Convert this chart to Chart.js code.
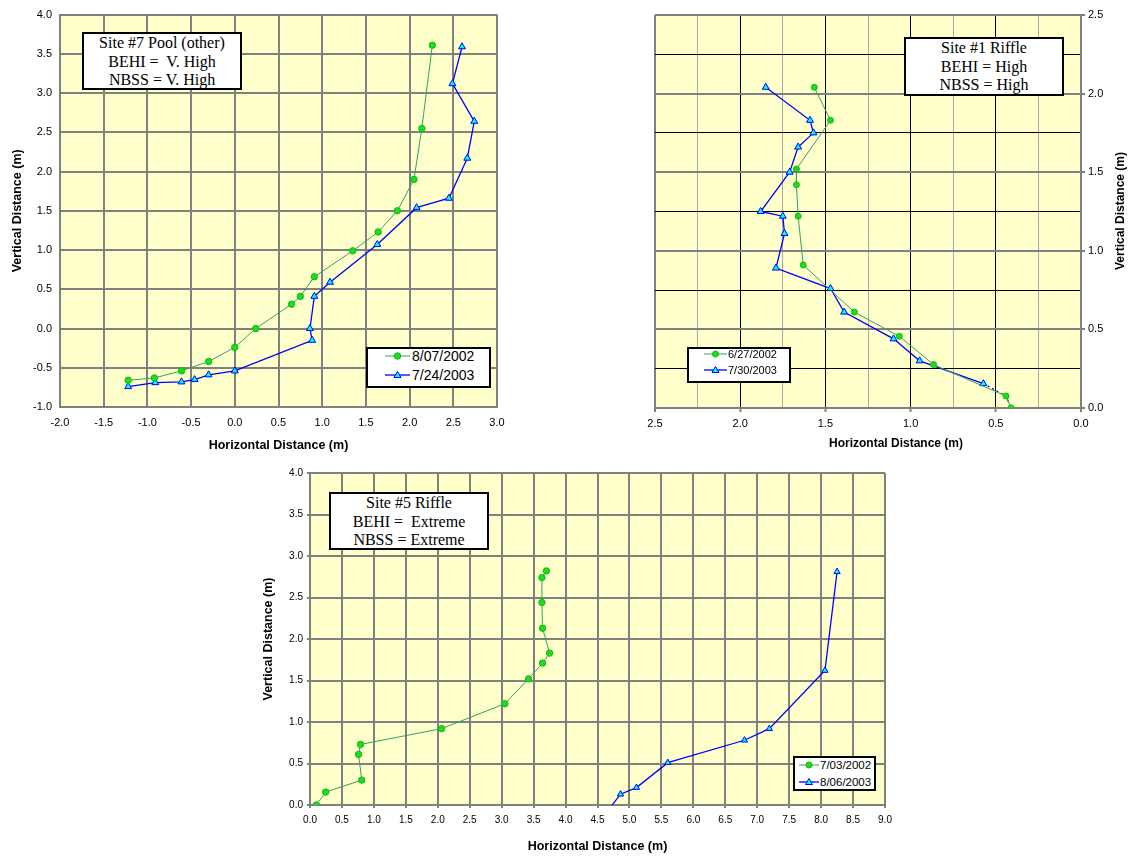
<!DOCTYPE html>
<html>
<head>
<meta charset="utf-8">
<title>Bank profiles</title>
<script src="https://cdn.jsdelivr.net/npm/chart.js@4.4.1/dist/chart.umd.min.js"></script>
<style>
body { margin:0; background:#fff; width:1129px; height:858px; position:relative; overflow:hidden; font-family:"Liberation Sans", Arial, sans-serif; color:#000; }
canvas { position:absolute; }
.note { position:absolute; box-sizing:border-box; background:#fff; border:2px solid #000; font-family:"Liberation Serif", "Times New Roman", serif; font-size:16px; line-height:18.5px; text-align:center; white-space:pre; }
.legend { position:absolute; box-sizing:border-box; background:#fff; border:2px solid #000; }
.legend .row { position:absolute; left:0; white-space:nowrap; }
.legend svg, .legend span { position:absolute; top:0; }
.atitle { position:absolute; font-weight:bold; font-size:12px; white-space:nowrap; text-align:center; }
</style>
</head>
<body>

<canvas id="site7" width="520" height="460" style="left:0;top:0;width:520px;height:460px"></canvas>
<canvas id="site1" width="509" height="460" style="left:620px;top:0;width:509px;height:460px"></canvas>
<canvas id="site5" width="650" height="398" style="left:250px;top:460px;width:650px;height:398px"></canvas>

<div class="note" style="left:82px;top:32px;width:160px;height:58px">Site #7 Pool (other)
BEHI =  V. High
NBSS = V. High</div>
<div class="note" style="left:904px;top:37px;width:160px;height:59px">Site #1 Riffle
BEHI = High
NBSS = High</div>
<div class="note" style="left:329px;top:492px;width:160px;height:58px">Site #5 Riffle
BEHI =  Extreme
NBSS = Extreme</div>

<div class="legend" style="left:366px;top:347px;width:125px;height:41px;font-size:14px">
  <div class="row" style="top:-2px;height:18px;line-height:18px">
    <svg style="left:17px;top:4px" width="25" height="10"><line x1="0" y1="5" x2="25" y2="5" stroke="#3A9E68" stroke-width="1"/><circle cx="12.5" cy="5" r="3.2" fill="#1EDC1E" stroke="#12B812"/></svg>
    <span style="left:44px">8/07/2002</span>
  </div>
  <div class="row" style="top:16.7px;height:18px;line-height:18px">
    <svg style="left:17px;top:4px" width="25" height="10"><line x1="0" y1="5" x2="25" y2="5" stroke="#0000FF" stroke-width="1.3"/><polygon points="12.5,1.5 16,7.5 9,7.5" fill="#00FFFF" stroke="#0000FF"/></svg>
    <span style="left:44px">7/24/2003</span>
  </div>
</div>

<div class="legend" style="left:687px;top:347px;width:104px;height:36px;font-size:11px">
  <div class="row" style="top:-2px;height:14px;line-height:14px">
    <svg style="left:15px;top:2px" width="23" height="10"><line x1="0" y1="5" x2="23" y2="5" stroke="#3A9E68" stroke-width="1"/><circle cx="11.5" cy="5" r="3" fill="#1EDC1E" stroke="#12B812"/></svg>
    <span style="left:39px">6/27/2002</span>
  </div>
  <div class="row" style="top:13.7px;height:14px;line-height:14px">
    <svg style="left:15px;top:2px" width="23" height="10"><line x1="0" y1="5" x2="23" y2="5" stroke="#0000FF" stroke-width="1.3"/><polygon points="11.5,1.5 15,7.5 8,7.5" fill="#00FFFF" stroke="#0000FF"/></svg>
    <span style="left:39px">7/30/2003</span>
  </div>
</div>

<div class="legend" style="left:793px;top:756px;width:83px;height:35px;font-size:11.5px">
  <div class="row" style="top:-1.3px;height:16px;line-height:16px">
    <svg style="left:4px;top:3px" width="20" height="10"><line x1="0" y1="5" x2="20" y2="5" stroke="#3A9E68" stroke-width="1"/><circle cx="10" cy="5" r="3" fill="#1EDC1E" stroke="#12B812"/></svg>
    <span style="left:25px">7/03/2002</span>
  </div>
  <div class="row" style="top:16px;height:16px;line-height:16px">
    <svg style="left:4px;top:3px" width="20" height="10"><line x1="0" y1="5" x2="20" y2="5" stroke="#0000FF" stroke-width="1.3"/><polygon points="10,1.5 13.5,7.5 6.5,7.5" fill="#00FFFF" stroke="#0000FF"/></svg>
    <span style="left:25px">8/06/2003</span>
  </div>
</div>

<div class="atitle" style="left:796px;top:435px;width:200px;line-height:16px">Horizontal Distance (m)</div>
<div class="atitle" style="left:1020px;top:203px;width:200px;line-height:16px;transform:rotate(-90deg)">Vertical Distance (m)</div>

<script>
// Site #7 Pool (other)
let site7Labels = ['8/07/2002', '7/24/2003']
let site7X2002 = [-1.22, -0.92, -0.61, -0.30, 0.00, 0.24, 0.65, 0.75, 0.91, 1.35, 1.64, 1.86, 2.05, 2.14, 2.26]
let site7Y2002 = [-0.66, -0.63, -0.54, -0.42, -0.24, 0.00, 0.31, 0.41, 0.66, 0.99, 1.23, 1.50, 1.90, 2.55, 3.61]
let site7X2003 = [-1.22, -0.91, -0.61, -0.46, -0.30, 0.00, 0.885, 0.86, 0.91, 1.09, 1.63, 2.08, 2.45, 2.66, 2.74, 2.49, 2.60]
let site7Y2003 = [-0.74, -0.69, -0.68, -0.65, -0.59, -0.54, -0.15, 0.00, 0.41, 0.59, 1.07, 1.54, 1.66, 2.17, 2.64, 3.12, 3.59]

// Site #1 Riffle
let site1Labels = ['6/27/2002', '7/30/2003']
let site1X2002 = [1.565, 1.47, 1.67, 1.67, 1.66, 1.63, 1.33, 1.066, 0.865, 0.44, 0.41]
let site1Y2002 = [2.04, 1.83, 1.52, 1.42, 1.22, 0.91, 0.61, 0.456, 0.276, 0.076, 0.00]
let site1X2003 = [1.85, 1.59, 1.57, 1.66, 1.71, 1.88, 1.75, 1.74, 1.79, 1.47, 1.39, 1.10, 0.947, 0.573, 0.44, 0.41]
let site1Y2003 = [2.04, 1.83, 1.75, 1.66, 1.50, 1.25, 1.22, 1.11, 0.89, 0.76, 0.61, 0.44, 0.30, 0.155, 0.076, 0.00]

// Site #5 Riffle
let site5Labels = ['7/03/2002', '8/06/2003']
let site5X2002 = [0.10, 0.245, 0.81, 0.76, 0.79, 2.06, 3.05, 3.42, 3.64, 3.75, 3.64, 3.63, 3.63, 3.70]
let site5Y2002 = [0.00, 0.156, 0.30, 0.61, 0.73, 0.92, 1.22, 1.52, 1.71, 1.83, 2.13, 2.44, 2.74, 2.82]
let site5X2003 = [4.68, 4.86, 5.11, 5.60, 6.80, 7.19, 8.06, 8.25]
let site5Y2003 = [-0.05, 0.13, 0.21, 0.51, 0.78, 0.92, 1.62, 2.81]

const GRID = '#808080'
const GREEN_LINE = '#3A9E68'
const GREEN_DOT = '#1EDC1E'

Chart.defaults.font.family = "'Liberation Sans', Arial, sans-serif"
Chart.defaults.color = '#000'

function pts(xs, ys) { return xs.map((x, i) => ({ x: x, y: ys[i] })) }
function isMajor(v) { return Math.abs(v * 2 - Math.round(v * 2)) < 1e-6 }
function fmt(v) { return v.toFixed(1) }

const plotBg = {
  id: 'plotBg',
  beforeDraw(chart) {
    const { ctx, chartArea: a } = chart
    ctx.save()
    ctx.fillStyle = '#FFFFCC'
    ctx.fillRect(a.left, a.top, a.width, a.height)
    ctx.restore()
  }
}

function greenSet(label, data, r) {
  return {
    label: label, data: data, showLine: true,
    borderColor: GREEN_LINE, borderWidth: 1,
    pointStyle: 'circle', pointRadius: r, pointHoverRadius: r,
    pointBackgroundColor: GREEN_DOT, pointBorderColor: '#12B812', pointBorderWidth: 1
  }
}
function blueSet(label, data, r) {
  return {
    label: label, data: data, showLine: true,
    borderColor: '#0000FF', borderWidth: 1.3,
    pointStyle: 'triangle', pointRadius: r, pointHoverRadius: r,
    pointBackgroundColor: '#00FFFF', pointBorderColor: '#0000FF', pointBorderWidth: 1
  }
}
const baseOpts = {
  responsive: false, animation: false, devicePixelRatio: 1,
  plugins: { legend: { display: false }, tooltip: { enabled: false } }
}

// chart 1
new Chart(document.getElementById('site7'), {
  type: 'scatter',
  data: { datasets: [
    greenSet(site7Labels[0], pts(site7X2002, site7Y2002), 3.2),
    blueSet(site7Labels[1], pts(site7X2003, site7Y2003), 4)
  ] },
  options: Object.assign({}, baseOpts, {
    layout: { padding: { top: 13, right: 23, left: 0, bottom: 0 } },
    scales: {
      x: {
        type: 'linear', min: -2, max: 3,
        ticks: { stepSize: 0.5, padding: 9, font: { size: 11 }, callback: fmt, autoSkip: false, maxRotation: 0 },
        grid: { color: GRID, lineWidth: 2, drawTicks: false },
        border: { color: GRID, width: 2 },
        title: { display: true, text: 'Horizontal Distance (m)', font: { size: 12.5, weight: 'bold' }, padding: { top: 0, bottom: 7 } },
        afterFit: a => { a.height = 53 }
      },
      y: {
        type: 'linear', min: -1, max: 4,
        ticks: { stepSize: 0.5, padding: 8, font: { size: 11 }, callback: fmt, autoSkip: false },
        grid: { color: GRID, lineWidth: 2, drawTicks: false },
        border: { color: GRID, width: 2 },
        title: { display: true, text: 'Vertical Distance (m)', font: { size: 12.5, weight: 'bold' }, padding: { top: 10.5, bottom: 0 } },
        afterFit: a => { a.width = 60 }
      }
    }
  }),
  plugins: [plotBg]
})

// chart 2
let site1Blue = blueSet(site1Labels[1], pts(site1X2003, site1Y2003), 4)
site1Blue.pointRadius = site1X2003.map((v, i) => i >= 14 ? 0 : 4)
site1Blue.segment = { borderDash: c => c.p0DataIndex >= 13 ? [2, 3] : undefined }

new Chart(document.getElementById('site1'), {
  type: 'scatter',
  data: { datasets: [
    greenSet(site1Labels[0], pts(site1X2002, site1Y2002), 3),
    site1Blue
  ] },
  options: Object.assign({}, baseOpts, {
    layout: { padding: { top: 15, right: 0, left: 35, bottom: 0 } },
    scales: {
      x: {
        type: 'linear', reverse: true, min: 0, max: 2.5,
        ticks: { stepSize: 0.25, padding: 5, font: { size: 11 }, callback: v => isMajor(v) ? fmt(v) : '', autoSkip: false, maxRotation: 0 },
        grid: {
          color: c => {
            let v = c.tick.value
            if (v <= 0.001 || v >= 2.499) return GRID
            return isMajor(v) ? '#000' : '#A8A8A8'
          },
          lineWidth: c => (c.tick.value <= 0.001 || c.tick.value >= 2.499) ? 2 : 1,
          tickLength: 4, tickWidth: 2,
          tickColor: c => isMajor(c.tick.value) ? GRID : 'rgba(0,0,0,0)'
        },
        border: { color: GRID, width: 2 },
        afterFit: a => { a.height = 52 }
      },
      y: {
        type: 'linear', position: 'right', min: 0, max: 2.5,
        ticks: { stepSize: 0.25, padding: 3, font: { size: 11 }, callback: v => isMajor(v) ? fmt(v) : '', autoSkip: false },
        grid: {
          color: c => isMajor(c.tick.value) ? GRID : '#000',
          lineWidth: c => isMajor(c.tick.value) ? 2 : 1,
          tickLength: 4, tickWidth: 2,
          tickColor: c => isMajor(c.tick.value) ? GRID : 'rgba(0,0,0,0)'
        },
        border: { color: GRID, width: 2 },
        afterFit: a => { a.width = 48 }
      }
    }
  }),
  plugins: [plotBg]
})

// chart 3
let site5Blue = blueSet(site5Labels[1], pts(site5X2003, site5Y2003), 3.6)
site5Blue.pointRadius = site5X2003.map((v, i) => i === 0 ? 0 : 3.6)
site5Blue.clip = { left: 10, top: 10, right: 10, bottom: 0 }

new Chart(document.getElementById('site5'), {
  type: 'scatter',
  data: { datasets: [
    greenSet(site5Labels[0], pts(site5X2002, site5Y2002), 3.2),
    site5Blue
  ] },
  options: Object.assign({}, baseOpts, {
    layout: { padding: { top: 13, right: 15, left: 0, bottom: 0 } },
    scales: {
      x: {
        type: 'linear', min: 0, max: 9,
        ticks: { stepSize: 0.5, padding: 6, font: { size: 10 }, callback: fmt, autoSkip: false, maxRotation: 0 },
        grid: { color: GRID, lineWidth: 2, tickLength: 3, tickColor: GRID },
        border: { color: GRID, width: 2 },
        title: { display: true, text: 'Horizontal Distance (m)', font: { size: 12.5, weight: 'bold' }, padding: { top: 0, bottom: 4 } },
        afterFit: a => { a.height = 53 }
      },
      y: {
        type: 'linear', min: 0, max: 4,
        ticks: { stepSize: 0.5, padding: 4, font: { size: 10 }, callback: fmt, autoSkip: false },
        grid: { color: GRID, lineWidth: 2, tickLength: 3, tickColor: GRID },
        border: { color: GRID, width: 2 },
        title: { display: true, text: 'Vertical Distance (m)', font: { size: 12.5, weight: 'bold' }, padding: { top: 11.5, bottom: 0 } },
        afterFit: a => { a.width = 60 }
      }
    }
  }),
  plugins: [plotBg]
})
</script>
</body>
</html>
